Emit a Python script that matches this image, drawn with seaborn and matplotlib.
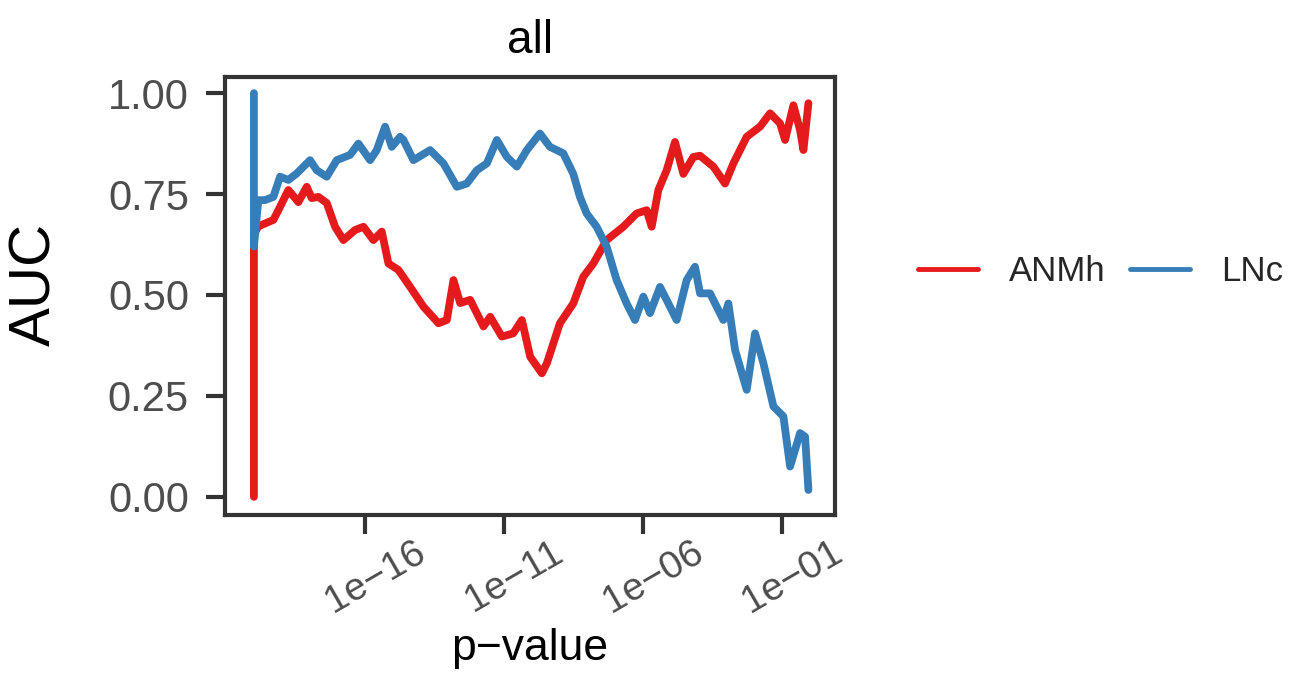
import numpy as np
import pandas as pd
import matplotlib
matplotlib.use("Agg")
import matplotlib.pyplot as plt
import seaborn as sns
from matplotlib.transforms import ScaledTranslation
from matplotlib.lines import Line2D

# ---- data (log10 p-value exponents and AUC values) ----
anmh_log10p = [-20.0, -20.0, -19.84, -19.30, -19.12, -18.76, -18.40, -18.10, -17.92,
               -17.68, -17.38, -17.08, -16.78, -16.36, -16.06, -15.70, -15.40, -15.16,
               -14.80, -14.38, -13.90, -13.36, -13.06, -12.82, -12.58, -12.22, -11.74,
               -11.50, -11.08, -10.67, -10.36, -10.06, -9.64, -9.46, -8.99, -8.51,
               -8.15, -7.79, -7.31, -6.71, -6.23, -5.87, -5.69, -5.45, -5.15, -4.85,
               -4.55, -4.19, -3.95, -3.47, -3.05, -2.75, -2.27, -1.79, -1.43, -1.07,
               -0.89, -0.59, -0.35, -0.23, -0.05]
anmh_auc = [0.0, 0.65, 0.67, 0.686, 0.71, 0.76, 0.73, 0.768, 0.74,
            0.743, 0.728, 0.669, 0.636, 0.661, 0.669, 0.636, 0.657, 0.578,
            0.562, 0.52, 0.471, 0.430, 0.438, 0.537, 0.48, 0.488, 0.422,
            0.446, 0.397, 0.405, 0.438, 0.347, 0.306, 0.331, 0.43, 0.479,
            0.545, 0.578, 0.636, 0.669, 0.702, 0.71, 0.669, 0.76, 0.809, 0.879,
            0.80, 0.842, 0.845, 0.818, 0.776, 0.826, 0.892, 0.917, 0.95, 0.925,
            0.884, 0.97, 0.908, 0.859, 0.975]

lnc_log10p = [-20.0, -20.0, -19.84, -19.60, -19.30, -19.06, -18.76, -18.46, -17.98,
              -17.74, -17.38, -17.02, -16.54, -16.24, -15.82, -15.58, -15.28, -15.04,
              -14.74, -14.62, -14.26, -13.66, -13.18, -12.70, -12.34, -11.98, -11.62,
              -11.26, -10.90, -10.54, -10.18, -9.71, -9.35, -8.87, -8.51, -8.27,
              -8.03, -7.67, -7.31, -6.95, -6.59, -6.29, -5.99, -5.75, -5.39, -5.03,
              -4.79, -4.43, -4.13, -3.95, -3.59, -3.11, -2.93, -2.69, -2.27, -1.97,
              -1.67, -1.31, -0.95, -0.71, -0.35, -0.17, -0.05]
lnc_auc = [1.0, 0.62, 0.735, 0.735, 0.743, 0.793, 0.785, 0.801, 0.834,
           0.809, 0.793, 0.834, 0.847, 0.875, 0.834, 0.859, 0.917, 0.867,
           0.892, 0.884, 0.834, 0.859, 0.826, 0.768, 0.776, 0.809, 0.826,
           0.884, 0.842, 0.818, 0.859, 0.9, 0.867, 0.851, 0.80, 0.743,
           0.702, 0.669, 0.62, 0.537, 0.479, 0.438, 0.496, 0.455, 0.52, 0.471,
           0.438, 0.537, 0.570, 0.504, 0.504, 0.438, 0.479, 0.364, 0.265, 0.405,
           0.331, 0.224, 0.199, 0.075, 0.158, 0.149, 0.017]

series_names = ["ANMh", "LNc"]
series_colors = ["#E41A1C", "#377EB8"]
x_tick_exponents = [-16, -11, -6, -1]
x_tick_labels = ["1e\u221216", "1e\u221211", "1e\u221206", "1e\u221201"]
y_ticks = [0.00, 0.25, 0.50, 0.75, 1.00]
y_tick_labels = ["0.00", "0.25", "0.50", "0.75", "1.00"]

df = pd.concat([
    pd.DataFrame({"pvalue": 10.0 ** np.array(anmh_log10p), "AUC": anmh_auc,
                  "method": "ANMh"}),
    pd.DataFrame({"pvalue": 10.0 ** np.array(lnc_log10p), "AUC": lnc_auc,
                  "method": "LNc"}),
], ignore_index=True)

sns.set_style("ticks")
plt.rcParams["font.family"] = ["Liberation Sans", "DejaVu Sans"]

W, H = 1309, 699
fig = plt.figure(figsize=(W / 100, H / 100), dpi=100)
ax_l, ax_r, ax_t, ax_b = 225, 835, 77, 515
ax = fig.add_axes([ax_l / W, 1 - ax_b / H, (ax_r - ax_l) / W, (ax_b - ax_t) / H])

sns.lineplot(data=df, x="pvalue", y="AUC", hue="method", units="method",
             estimator=None, sort=False, palette=dict(zip(series_names, series_colors)),
             hue_order=series_names, linewidth=5.6, ax=ax, legend=False)

ax.set_xscale("log")
ax.set_xlim(10 ** -21.04, 10 ** 0.906)
ax.set_ylim(-0.045, 1.04)
ax.set_xticks([10.0 ** e for e in x_tick_exponents])
ax.set_xticklabels(x_tick_labels)
ax.xaxis.set_minor_locator(matplotlib.ticker.NullLocator())
ax.set_yticks(y_ticks)
ax.set_yticklabels(y_tick_labels)

for s in ax.spines.values():
    s.set_visible(True)
    s.set_linewidth(3)
    s.set_color("#333333")

ax.tick_params(axis="both", length=14, width=3, color="#333333",
               labelcolor="#4D4D4D", labelsize=30)
ax.tick_params(axis="y", pad=12)
ax.tick_params(axis="x", pad=0, labelsize=28)
for lbl in ax.get_xticklabels():
    lbl.set_rotation(30)
    lbl.set_ha("center")
    lbl.set_va("top")
    lbl.set_transform(lbl.get_transform() + ScaledTranslation(10 / 100, 0, fig.dpi_scale_trans))

ax.set_title("all", fontsize=33, pad=17, color="black")
ax.set_ylabel("AUC", fontsize=42, color="black")
ax.yaxis.set_label_coords((62 - ax_l) / (ax_r - ax_l), (ax_b - 284) / (ax_b - ax_t))
ax.set_xlabel("p\u2212value", fontsize=32, color="black")
ax.xaxis.set_label_coords(0.5, (ax_b - 628) / (ax_b - ax_t))
ax.xaxis.label.set_va("top")

handles = [Line2D([0], [0], color=c, lw=3.5) for c in series_colors]
fs = 25
fig.legend(handles, series_names, loc="center left", ncol=2, frameon=False,
           bbox_to_anchor=(918 / W, 1 - 272 / H), fontsize=fs,
           handlelength=1.73, handletextpad=0.9, columnspacing=0.7,
           borderpad=0, borderaxespad=0)

fig.savefig("out.png", dpi=100, facecolor="white")
